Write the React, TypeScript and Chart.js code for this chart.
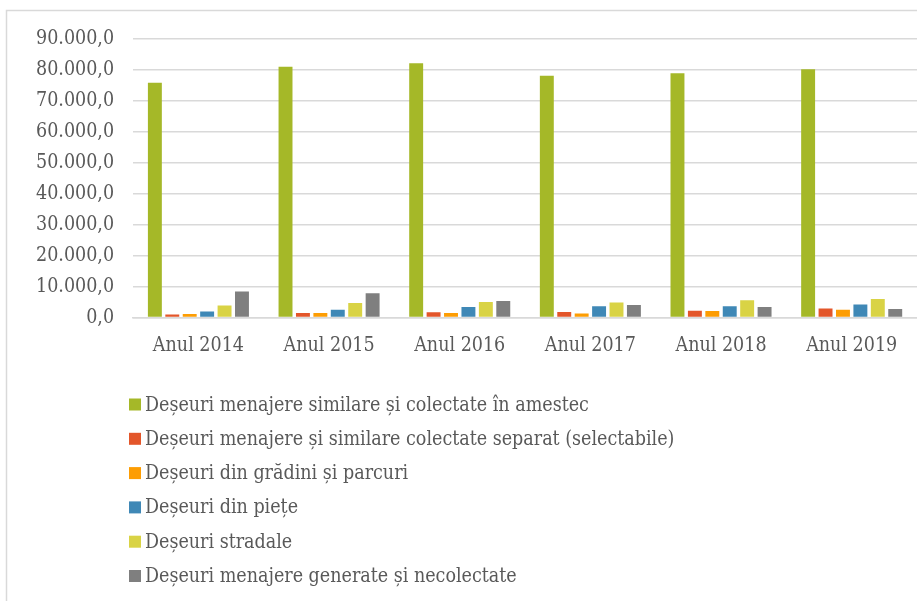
import React, { useEffect, useRef } from "react";
import { Chart, registerables } from "chart.js";

Chart.register(...registerables);

const categories = ["Anul 2014", "Anul 2015", "Anul 2016", "Anul 2017", "Anul 2018", "Anul 2019"];
const seriesNames = [
  "Deșeuri menajere similare și colectate în amestec",
  "Deșeuri menajere și similare colectate separat (selectabile)",
  "Deșeuri din grădini și parcuri",
  "Deșeuri din piețe",
  "Deșeuri stradale",
  "Deșeuri menajere generate și necolectate",
];
const mixedValues = [75900, 81000, 82200, 78100, 78900, 80200];
const separateValues = [1000, 1500, 1700, 1800, 2250, 2900];
const gardenValues = [1200, 1500, 1500, 1300, 2150, 2500];
const marketValues = [2000, 2500, 3400, 3700, 3700, 4200];
const streetValues = [3900, 4700, 5000, 4900, 5600, 6000];
const uncollectedValues = [8400, 7850, 5400, 4100, 3400, 2800];
const seriesColors = ["#A5B828", "#E3562A", "#FD9D03", "#3F88B6", "#D9D345", "#7F7F7F"];

const FONT = "'DejaVu Serif Condensed', 'DejaVu Serif', serif";
const TEXT = "#595959";

function fmt(v: number): string {
  const s = Math.round(v).toString().replace(/\B(?=(\d{3})+(?!\d))/g, ".");
  return s + ",0";
}

const legendPlugin = {
  id: "customLegend",
  beforeDraw(chart: any) {
    const ctx = chart.ctx;
    ctx.save();
    ctx.strokeStyle = "#D9D9D9";
    ctx.lineWidth = 1.5;
    ctx.strokeRect(6.5, 10.5, 2000, 2000);
    ctx.restore();
  },
  afterDraw(chart: any) {
    const ctx = chart.ctx;
    ctx.save();
    ctx.font = `19.5px ${FONT}`;
    ctx.textBaseline = "middle";
    ctx.textAlign = "left";
    const startY = 404.5;
    const step = 34.3;
    seriesNames.forEach((name, i) => {
      const y = startY + i * step;
      ctx.fillStyle = seriesColors[i];
      ctx.fillRect(129, y - 6, 12, 12);
      ctx.fillStyle = TEXT;
      ctx.fillText(name, 145, y + 1);
    });
    ctx.restore();
  },
};

export default function App() {
  const ref = useRef<HTMLCanvasElement | null>(null);
  useEffect(() => {
    document.body.style.margin = "0";
    document.body.style.overflow = "hidden";
    const values = [mixedValues, separateValues, gardenValues, marketValues, streetValues, uncollectedValues];
    const chart = new Chart(ref.current as HTMLCanvasElement, {
      type: "bar",
      data: {
        labels: categories,
        datasets: seriesNames.map((name, i) => ({
          label: name,
          data: values[i],
          backgroundColor: seriesColors[i],
          borderWidth: 0,
          categoryPercentage: 0.8,
          barPercentage: 0.8,
        })),
      },
      options: {
        animation: false,
        responsive: false,
        layout: { padding: { left: 17, top: 39, right: 0, bottom: 226 } },
        plugins: { legend: { display: false }, tooltip: { enabled: false } },
        scales: {
          x: {
            grid: { display: false, drawTicks: false },
            border: { display: true, color: "#D9D9D9", width: 1.5 },
            ticks: { color: TEXT, font: { family: FONT, size: 19.5 }, padding: 17 },
          },
          y: {
            min: 0,
            max: 90000,
            grid: { color: "#D9D9D9", lineWidth: 1.5, drawTicks: false },
            border: { display: false },
            ticks: {
              stepSize: 10000,
              color: TEXT,
              font: { family: FONT, size: 19.5 },
              padding: 19,
              callback: (v: any) => fmt(Number(v)),
            },
          },
        },
      },
      plugins: [legendPlugin],
    });
    return () => chart.destroy();
  }, []);
  return (
    <div style={{ width: 917, height: 601 }}>
      <canvas ref={ref} width={917} height={601} style={{ display: "block" }} />
    </div>
  );
}
